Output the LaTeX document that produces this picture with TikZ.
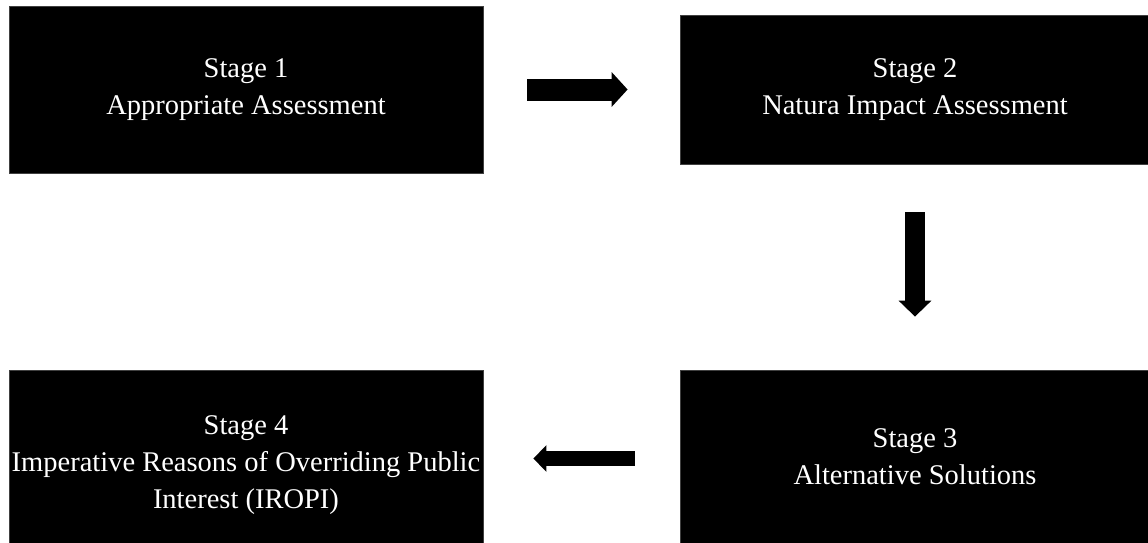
\documentclass[tikz,border=0pt]{standalone}
\usepackage{fontspec}
\setmainfont{Liberation Serif}
\usepackage{tikz}
\usetikzlibrary{arrows.meta, positioning}

\begin{document}
\begin{tikzpicture}[x=1pt, y=-1pt,
    stagebox/.style={draw=black!75, line width=0.8pt, fill=black, text=white,
        align=center, inner sep=0pt, font=\fontsize{28.5}{37}\selectfont},
    flow/.style={line width=#1}]

    % =================================================================
    % 1. KHUNG HÌNH
    % =================================================================
    \useasboundingbox (0,0) rectangle (1148,543);

    % =================================================================
    % 2. CÁC Ô GIAI ĐOẠN
    % =================================================================
    \node[stagebox, minimum width=474pt, minimum height=167pt] (S1) at (246, 89.5)
        {Stage 1\\Appropriate Assessment};
    \node[stagebox, minimum width=470pt, minimum height=149pt] (S2) at (915, 89.5)
        {Stage 2\\Natura Impact Assessment};
    \node[stagebox, minimum width=470pt, minimum height=174pt] (S3) at (915, 457)
        {Stage 3\\Alternative Solutions};
    \node[stagebox, minimum width=474pt, minimum height=190pt] (S4) at (246, 465)
        {Stage 4\\Imperative Reasons of Overriding Public\\Interest (IROPI)};

    % =================================================================
    % 3. MŨI TÊN NỐI CÁC GIAI ĐOẠN
    % =================================================================
    % Giai đoạn 1 sang giai đoạn 2
    \draw[flow=22pt, -{Triangle[length=16pt, width=34pt]}]
        ([xshift=44pt]S1.east) -- ([xshift=-52pt]S2.west);

    % Giai đoạn 2 xuống giai đoạn 3
    \draw[flow=20pt, -{Triangle[length=16pt, width=32pt]}]
        ([yshift=-48pt]S2.south) -- ([yshift=53pt]S3.north);

    % Giai đoạn 3 sang giai đoạn 4
    \draw[flow=15pt, -{Triangle[length=13pt, width=26pt]}]
        ([xshift=-45pt,yshift=-1.5pt]S3.west) -- ([xshift=50pt,yshift=-1.5pt]S4.east |- S3.west);

\end{tikzpicture}
\end{document}
